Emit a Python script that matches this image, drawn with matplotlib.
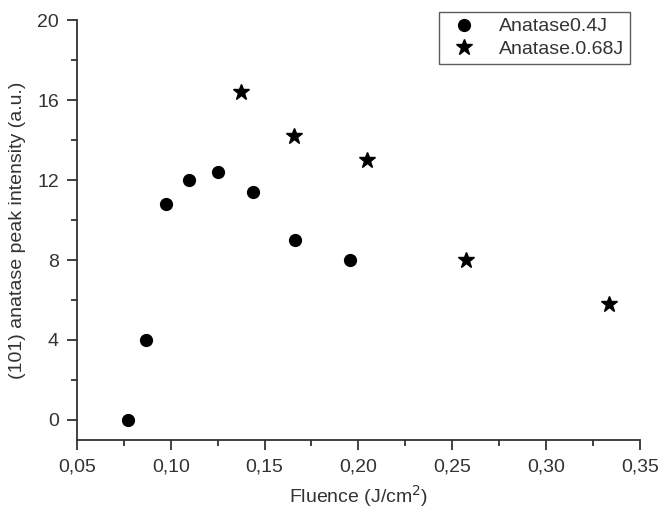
import matplotlib
matplotlib.use("Agg")
import matplotlib.pyplot as plt
from matplotlib.ticker import MultipleLocator, FuncFormatter

plt.rcParams['font.family'] = ['Liberation Sans', 'DejaVu Sans']

# Anatase 0.4J series
fluence_04 = [0.0772, 0.0868, 0.0974, 0.1098, 0.1251, 0.1436, 0.1665, 0.1953]
intensity_04 = [0.0, 4.0, 10.8, 12.0, 12.4, 11.4, 9.0, 8.0]

# Anatase 0.68J series
fluence_068 = [0.1374, 0.1656, 0.2045, 0.2572, 0.3334]
intensity_068 = [16.4, 14.2, 13.0, 8.0, 5.8]

fig = plt.figure(figsize=(6.63, 5.09), dpi=100)
ax = fig.add_axes([0.116, 0.1356, 0.849, 0.825])

ax.plot(fluence_04, intensity_04, 'o', color='black', markersize=8.5, label='Anatase0.4J')
ax.plot(fluence_068, intensity_068, '*', color='black', markersize=12, label='Anatase.0.68J')

ax.set_xlim(0.05, 0.35)
ax.set_ylim(-1, 20)
ax.xaxis.set_major_locator(MultipleLocator(0.05))
ax.xaxis.set_minor_locator(MultipleLocator(0.025))
ax.yaxis.set_major_locator(MultipleLocator(4))
ax.yaxis.set_minor_locator(MultipleLocator(2))
ax.xaxis.set_major_formatter(FuncFormatter(lambda v, p: f"{v:.2f}".replace('.', ',')))

for s in ['top', 'right']:
    ax.spines[s].set_visible(False)
for s in ['left', 'bottom']:
    ax.spines[s].set_linewidth(1.3)
    ax.spines[s].set_color('#333333')

ax.tick_params(which='major', direction='out', length=7, width=1.3, labelsize=14, colors='#333333', labelcolor='#333333', pad=6)
ax.tick_params(which='minor', direction='out', length=4, width=1.3, colors='#333333')

ax.set_xlabel('Fluence (J/cm$^2$)', fontsize=14, color='#333333', labelpad=6)
ax.set_ylabel('(101) anatase peak intensity (a.u.)', fontsize=14, color='#333333', labelpad=8)

leg = fig.legend(loc='upper right', bbox_to_anchor=(630 / 663, 1 - 12 / 509), fontsize=14, frameon=True, fancybox=False,
                 edgecolor='#333333', handletextpad=0.8, borderpad=0.3, labelspacing=0.25, borderaxespad=0)
leg.get_frame().set_linewidth(1.0)
for t in leg.get_texts():
    t.set_color('#333333')

fig.savefig('out.png', dpi=100)
